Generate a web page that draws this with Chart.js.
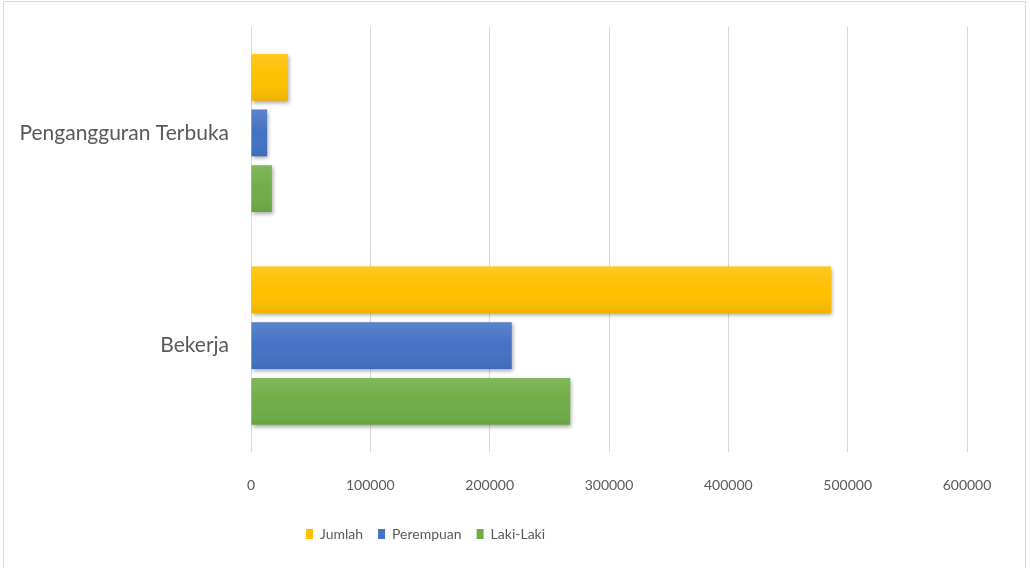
<!DOCTYPE html>
<html>
<head>
<meta charset="utf-8">
<script src="https://cdn.jsdelivr.net/npm/chart.js@4"></script>
<style>
  body { margin: 0; background: #fff; }
  #wrap { position: relative; width: 1030px; height: 568px; overflow: hidden; }
  #frame { position: absolute; left: 3px; top: 1px; width: 1021px; height: 600px; border: 1px solid #d9d9d9; pointer-events: none; }
  canvas { position: absolute; left: 0; top: 0; }
</style>
</head>
<body>
<div id="wrap">
  <canvas id="canvas" width="1030" height="568"></canvas>
  <div id="frame"></div>
</div>
<script>
var categories = ['Pengangguran Terbuka', 'Bekerja'];
var jumlah = [31000, 486000];
var perempuan = [13500, 218500];
var lakiLaki = [17500, 267500];
var xTicks = [0, 100000, 200000, 300000, 400000, 500000, 600000];

var textColor = '#595959';

// excel-like shadow + soft gradient on the bars
var barLook = {
  id: 'barLook',
  beforeDatasetsDraw: function (chart) {
    var c = chart.ctx;
    c.save();
    c.shadowColor = 'rgba(0,0,0,0.35)';
    c.shadowBlur = 4;
    c.shadowOffsetX = 1;
    c.shadowOffsetY = 2;
  },
  afterDatasetsDraw: function (chart) {
    var c = chart.ctx;
    c.restore();
    chart.data.datasets.forEach(function (ds, i) {
      chart.getDatasetMeta(i).data.forEach(function (el) {
        var p = el.getProps(['x', 'y', 'base', 'height'], true);
        var top = p.y - p.height / 2;
        var g = c.createLinearGradient(0, top, 0, top + p.height);
        g.addColorStop(0, 'rgba(255,255,255,0.12)');
        g.addColorStop(0.5, 'rgba(255,255,255,0)');
        g.addColorStop(1, 'rgba(0,0,0,0.07)');
        c.fillStyle = g;
        c.fillRect(p.base, top, p.x - p.base, p.height);
      });
    });
  }
};

// legend in the original sits left of centre
var legendShift = {
  id: 'legendShift',
  afterLayout: function (chart) {
    chart.legend.left -= 58;
    chart.legend.right -= 58;
  }
};

var options = {
  type: 'bar',
  data: {
    labels: categories,
    datasets: [
      { label: 'Jumlah', data: jumlah, backgroundColor: '#ffc000' },
      { label: 'Perempuan', data: perempuan, backgroundColor: '#4472c4' },
      { label: 'Laki-Laki', data: lakiLaki, backgroundColor: '#70ad47' }
    ]
  },
  options: {
    indexAxis: 'y',
    responsive: false,
    animation: false,
    categoryPercentage: 0.785,
    barPercentage: 0.84,
    layout: { padding: { top: 19, right: 63, bottom: 17, left: 0 } },
    plugins: {
      tooltip: { enabled: false },
      legend: {
        position: 'bottom',
        labels: {
          color: textColor,
          font: { family: 'Lato', size: 14 },
          boxWidth: 7,
          boxHeight: 10,
          padding: 15
        }
      }
    },
    scales: {
      x: {
        min: 0,
        max: 600000,
        afterBuildTicks: function (scale) {
          scale.ticks = xTicks.map(function (v) { return { value: v }; });
        },
        ticks: {
          color: textColor,
          font: { family: 'Lato', size: 14 },
          padding: 25,
          maxRotation: 0,
          callback: function (v) { return String(v); }
        },
        grid: { color: '#d9d9d9', drawTicks: false },
        border: { display: false },
        afterFit: function (scale) { scale.height = 60; }
      },
      y: {
        ticks: {
          color: textColor,
          font: { family: 'Lato', size: 21 },
          padding: 14
        },
        grid: { display: false },
        border: { display: false },
        afterFit: function (scale) { scale.width = 251; }
      }
    }
  },
  plugins: [barLook, legendShift]
};

var ctx = document.getElementById('canvas').getContext('2d');
new Chart(ctx, options);
</script>
</body>
</html>
